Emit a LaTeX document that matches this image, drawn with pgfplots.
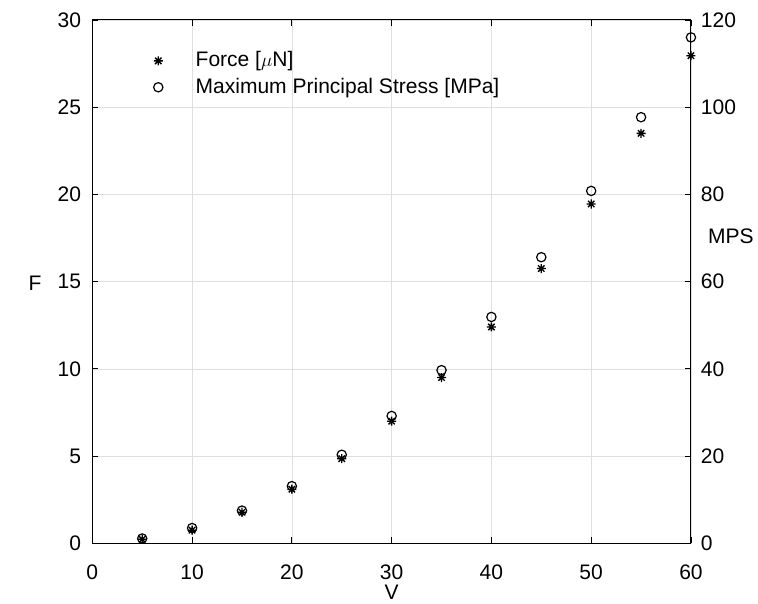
\documentclass[border=0pt]{standalone}
\usepackage{pgfplots}
\pgfplotsset{compat=1.18}
\usepackage{fontspec}
\setmainfont{Liberation Sans}
\pgfdeclareplotmark{mstar}{%
 \pgfpathmoveto{\pgfpoint{-\pgfplotmarksize}{0pt}}\pgfpathlineto{\pgfpoint{\pgfplotmarksize}{0pt}}%
 \pgfpathmoveto{\pgfpoint{0pt}{-\pgfplotmarksize}}\pgfpathlineto{\pgfpoint{0pt}{\pgfplotmarksize}}%
 \pgfpathmoveto{\pgfpoint{-0.707\pgfplotmarksize}{-0.707\pgfplotmarksize}}\pgfpathlineto{\pgfpoint{0.707\pgfplotmarksize}{0.707\pgfplotmarksize}}%
 \pgfpathmoveto{\pgfpoint{-0.707\pgfplotmarksize}{0.707\pgfplotmarksize}}\pgfpathlineto{\pgfpoint{0.707\pgfplotmarksize}{-0.707\pgfplotmarksize}}%
 \pgfusepathqstroke}
\pgfplotsset{
  widemark/.style={legend image code/.code={%
    \draw[##1] plot coordinates {(0.3cm,0cm)};
    \path (0cm,0cm) (1.2cm,0cm);}},
}
\begin{document}
\fontsize{15.8}{19}\selectfont
\begin{tikzpicture}
\pgfplotsset{
  every axis/.append style={
    width=450pt, height=393.4pt, scale only axis,
    xmin=0, xmax=60,
    /pgf/number format/assume math mode=true,
    tick style={black, line width=0.6pt},
    major tick length=4.5pt,
    axis line style={black, line width=0.8pt},
    tick label style={font=\fontsize{15.8}{19}\selectfont},
    label style={font=\fontsize{15.8}{19}\selectfont},
  }
}
\begin{axis}[
  name=main,
  axis y line*=left,
  ymin=0, ymax=30,
  xtick={0,10,...,60},
  ytick={0,5,...,30},
  grid=major,
  major grid style={gray!25, line width=0.5pt},
  xticklabel style={yshift=-10.5pt},
  yticklabel style={xshift=-3pt},
  xlabel={V},
  ylabel={F},
  ylabel style={rotate=-90, at={(axis description cs:0,0.497)}, anchor=center, xshift=-43pt},
  xlabel style={at={(axis description cs:0.5,0)}, anchor=base, inner sep=0pt, yshift=-42.5pt},
  legend style={draw=none, fill=none, at={(0.083,0.95)}, anchor=north west, row sep=2pt,
    font=\fontsize{15.8}{19}\selectfont},
  legend cell align=left,
]
\addplot[only marks, mark=mstar, mark size=3.4pt, black, line width=1pt, widemark] coordinates {
(5,0.23) (10,0.75) (15,1.78) (20,3.1) (25,4.85) (30,7.0) (35,9.5) (40,12.4) (45,15.75) (50,19.45) (55,23.5) (60,27.95)
};
\addlegendentry{Force [$\mu$N]}
\addlegendimage{only marks, mark=o, mark size=3.5pt, black, line width=0.9pt, widemark}
\addlegendentry{Maximum Principal Stress [MPa]}
\end{axis}
\begin{axis}[
  axis y line*=right,
  axis x line=none,
  ymin=0, ymax=120,
  ytick={0,20,...,120},
  yticklabel style={xshift=2pt},
  ylabel={MPS},
  ylabel style={rotate=-90, at={(axis description cs:1,0.587)}, anchor=center, xshift=30pt},
]
\addplot[only marks, mark=o, mark size=3.5pt, black, line width=0.9pt] coordinates {
(5,1.1) (10,3.5) (15,7.5) (20,13.1) (25,20.3) (30,29.2) (35,39.7) (40,51.9) (45,65.6) (50,80.8) (55,97.7) (60,116.0)
};
\end{axis}
\pgfresetboundingbox
\path (main.south west) +(-69.4pt,-45.6pt) (main.north east) +(50.4pt,15pt);
\end{tikzpicture}
\end{document}
